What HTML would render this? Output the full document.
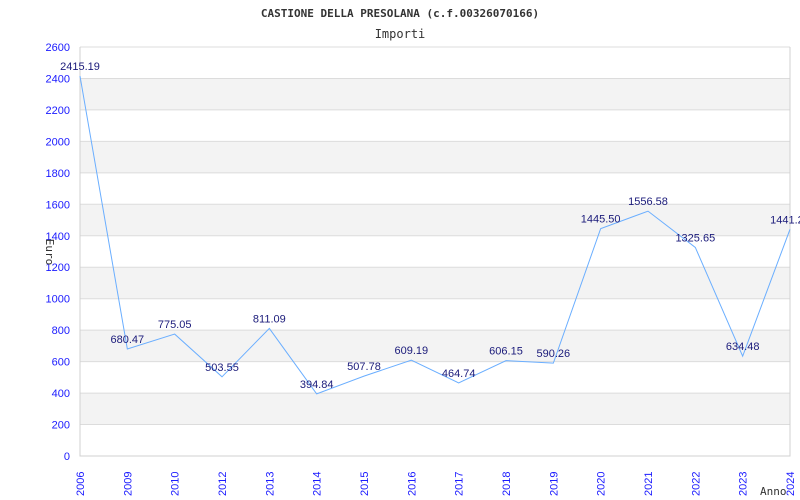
<!DOCTYPE html>
<html><head><meta charset="utf-8"><style>
html,body{margin:0;padding:0;background:#fff;width:800px;height:500px;overflow:hidden}
</style></head><body>
<svg id="chart" width="800" height="500" xmlns="http://www.w3.org/2000/svg" font-family="'Liberation Sans',sans-serif">
<text x="400" y="17" text-anchor="middle" font-family="'DejaVu Sans Mono','Liberation Mono',monospace" font-size="11" font-weight="bold" fill="#333">CASTIONE DELLA PRESOLANA (c.f.00326070166)</text>
<text x="400" y="38" text-anchor="middle" font-family="'DejaVu Sans Mono','Liberation Mono',monospace" font-size="12" fill="#333">Importi</text>
<g id="bands"></g><g id="grid"></g><g id="axes"></g><g id="series"></g><g id="labels"></g>
<text transform="translate(46,252) rotate(90)" text-anchor="middle" font-family="'DejaVu Sans Mono',monospace" font-size="11" fill="#333">Euro</text>
<text x="760" y="495" font-family="'DejaVu Sans Mono',monospace" font-size="11" fill="#333">Anno</text>
</svg>
<script>
const categories=["2006","2009","2010","2012","2013","2014","2015","2016","2017","2018","2019","2020","2021","2022","2023","2024"];
const values=[2415.19,680.47,775.05,503.55,811.09,394.84,507.78,609.19,464.74,606.15,590.26,1445.50,1556.58,1325.65,634.48,1441.20];
const yTicks=[0,200,400,600,800,1000,1200,1400,1600,1800,2000,2200,2400,2600];
const NS="http://www.w3.org/2000/svg";
const L=80,R=790,T=47,B=456,yMax=2600;
const xs=i=>L+i*(R-L)/(categories.length-1);
const ys=v=>B-v/yMax*(B-T);
function mk(tag,attrs,parent,text){const e=document.createElementNS(NS,tag);for(const k in attrs)e.setAttribute(k,attrs[k]);if(text!==undefined)e.textContent=text;document.getElementById(parent).appendChild(e);return e;}
for(let i=0;i<yTicks.length-1;i++){
  if(i%2===1){const r=mk('rect',{x:L,y:ys(yTicks[i+1]),width:R-L,height:ys(yTicks[i])-ys(yTicks[i+1]),fill:'#f3f3f3'},'bands');
  
  }
}
yTicks.forEach(t=>{
  const g=mk('line',{x1:L,x2:R,y1:ys(t),y2:ys(t),stroke:'#dcdcdc','stroke-width':1},'grid');
  
  
  const tx=mk('text',{x:70,y:ys(t)+4,'text-anchor':'end','font-size':'11',fill:'#1a1aff'},'axes',String(t));
  
  
});
const ax=mk('path',{d:`M${L},${T}V${B}H${R}V${T}`,fill:'none',stroke:'#d0d0d0','stroke-width':1},'axes');


categories.forEach((c,i)=>{
  const x=xs(i);
  const t=mk('text',{transform:`translate(${x+4},${B+40}) rotate(-90)`,'font-size':'11',fill:'#1a1aff'},'axes',c);
  
  
});
const pl=mk('polyline',{points:values.map((v,i)=>xs(i)+','+ys(v)).join(' '),fill:'none',stroke:'#6aaeff','stroke-width':1},'series');


values.forEach((v,i)=>{
  const t=mk('text',{x:xs(i),y:ys(v)-6,'text-anchor':'middle','font-size':'11',fill:'#1a1a7a'},'labels',v.toFixed(2));
  
  
});
</script>
</body></html>
